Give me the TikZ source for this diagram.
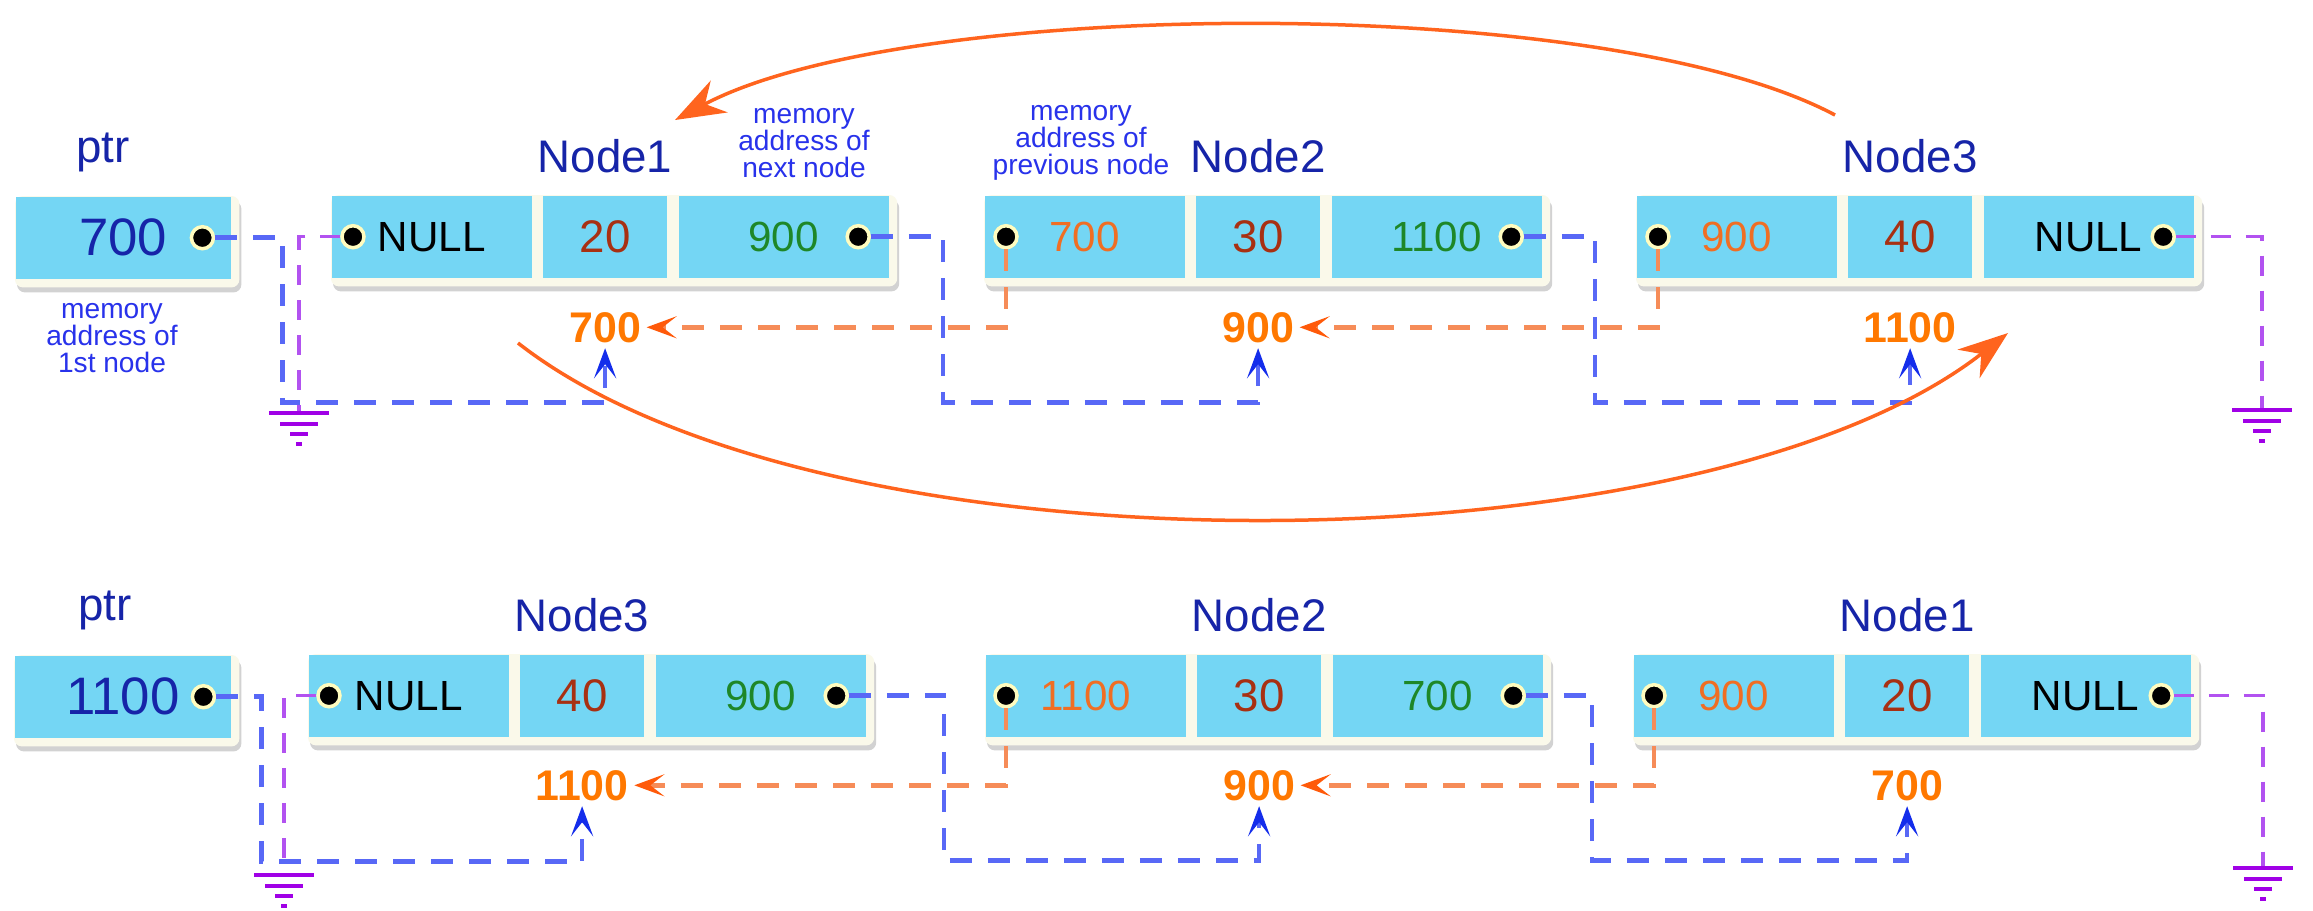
\documentclass[tikz,border=0pt]{standalone}
\usepackage{fontspec}
\setmainfont{Liberation Sans}
\usetikzlibrary{positioning, arrows.meta, backgrounds, shadows}

\definecolor{cellblue}{RGB}{116,214,244}
\definecolor{cream}{RGB}{250,249,234}
\definecolor{titleblue}{RGB}{22,36,168}
\definecolor{noteblue}{RGB}{40,50,235}
\definecolor{datared}{RGB}{168,48,18}
\definecolor{nextgreen}{RGB}{30,135,40}
\definecolor{prevorange}{RGB}{240,110,35}
\definecolor{addrorange}{RGB}{255,120,0}
\definecolor{linkblue}{RGB}{88,104,246}
\definecolor{tipblue}{RGB}{20,45,235}
\definecolor{linkorange}{RGB}{246,140,88}
\definecolor{tiporange}{RGB}{255,90,10}
\definecolor{nullpurple}{RGB}{178,82,240}
\definecolor{gndpurple}{RGB}{160,0,230}
\definecolor{swaporange}{RGB}{255,100,30}

\tikzset{
  cell/.style={rectangle, fill=cellblue, minimum height=8.2mm, inner sep=0pt, font=\fontsize{12}{14}\selectfont},
  datacell/.style={cell, minimum width=12.4mm, text=datared, font=\fontsize{13}{15}\selectfont},
  ptrcell/.style={cell, minimum width=21.5mm, text=titleblue, font=\fontsize{15}{17}\selectfont},
  panel/.style={fill=cream, rounded corners=0.8mm, drop shadow={shadow xshift=0.2mm, shadow yshift=-0.5mm, opacity=0.35}},
  dot/.style={circle, fill=black, draw=yellow!25!white, line width=0.35mm, minimum size=2.2mm, inner sep=0pt},
  title/.style={text=titleblue, font=\fontsize{13}{15}\selectfont},
  note/.style={text=noteblue, align=center, inner sep=0pt, font=\fontsize{8}{7.6}\selectfont},
  addr/.style={text=addrorange, inner sep=0.5mm, font=\fontsize{12.2}{14}\selectfont\bfseries},
  nextlink/.style={draw=linkblue, line width=0.45mm, dash pattern=on 2.2mm off 1.6mm,
    -{Stealth[length=3mm, width=2.2mm, inset=1.4mm, color=tipblue]}},
  prevlink/.style={draw=linkorange, line width=0.45mm, dash pattern=on 2.2mm off 1.6mm,
    -{Stealth[length=3mm, width=2.2mm, inset=1.4mm, color=tiporange]}},
  nulllink/.style={draw=nullpurple, line width=0.35mm, dash pattern=on 2mm off 1.5mm},
  swap/.style={draw=swaporange, line width=0.35mm, -{Stealth[length=5mm, width=3.6mm, inset=1.6mm]}},
  ground/.pic={
    \draw[gndpurple, line width=0.4mm] (-30,0) -- (30,0) (-19,11) -- (19,11) (-9,21) -- (9,21) (-3,31) -- (3,31);
  }
}

\begin{document}
\begin{tikzpicture}[x=0.1mm, y=-0.1mm]

\useasboundingbox (0,0) rectangle (2313,910);
\begin{scope}[on background layer]
  \fill[white] (0,0) rectangle (2313,910);
\end{scope}

% list before reversing
\node[title] (tptrt) at (103,152) {ptr};
\node[ptrcell, anchor=north west] (tptr) at (15,196) {700\hspace{1.2mm}};
\node[dot] (tptrd) at ([xshift=-2.9mm]tptr.east) {};
\node[note] (tnote1) at (112,338) {memory\\address of\\1st node};
\node[note] (tnote2) at (804,143) {memory\\address of\\next node};
\node[note] (tnote3) at (1081,143) {memory\\address of\\previous node};

\foreach \i/\x/\lbl/\pc/\p/\d/\nc/\n/\a in {
    1/331/Node1/black/NULL/20/nextgreen/900/700,
    2/984/Node2/prevorange/700/30/nextgreen/1100/900,
    3/1636/Node3/prevorange/900/40/black/NULL/1100} {
  \node[cell, minimum width=20mm, anchor=north west, text=\pc] (t\i l) at (\x,195) {\p};
  \node[datacell, right=1mm of t\i l] (t\i m) {\d};
  \node[cell, minimum width=21mm, right=1mm of t\i m, text=\nc] (t\i r) {\n};
  \node[dot] (t\i p) at ([xshift=2.2mm]t\i l.west) {};
  \node[dot] (t\i n) at ([xshift=-3.1mm]t\i r.east) {};
  \node[title, above=1mm of t\i m] (t\i t) {\lbl};
  \node[addr, below=2.8mm of t\i m] (t\i a) {\a};
  \begin{scope}[on background layer]
    \fill[panel] (t\i l.north west) rectangle ([shift={(8,8)}]t\i r.south east);
  \end{scope}
}
\begin{scope}[on background layer]
  \fill[panel] (tptr.north west) rectangle ([shift={(8,8)}]tptr.south east);
\end{scope}

% next pointers
\draw[nextlink] (tptrd) -| ++(80,165) -| (t1a.south);
\draw[nextlink] (t1n) -| ++(85,166) -| (t2a.south);
\draw[nextlink] (t2n) -| ++(84,166) -| (t3a.south);

% previous pointers
\draw[prevlink] (t2p) |- (t1a.east);
\draw[prevlink] (t3p) |- (t2a.east);

% NULL ends
\coordinate (g1) at (299,413);
\coordinate (g2) at (2262,410);
\draw[nulllink] (t1p) -| (g1);
\draw[nulllink] (t3n) -| (g2);

% swap of first and last node
\coordinate (s1) at (1835,115);
\coordinate (e1) at (675,120);
\coordinate (s2) at (518,343);
\coordinate (e2) at (2008,333);
\draw[swap] (s1) .. controls (1604,-8) and (906,-3) .. (e1);
\draw[swap] (s2) .. controls (825,583) and (1701,573) .. (e2);

% list after reversing
\node[title] (bptrt) at (105,610) {ptr};
\node[ptrcell, minimum width=21.6mm, anchor=north west] (bptr) at (14,655) {1100};
\node[dot] (bptrd) at ([xshift=-2.8mm]bptr.east) {};

\foreach \i/\x/\lbl/\pc/\p/\d/\nc/\n/\a in {
    1/308/Node3/black/NULL/40/nextgreen/900/1100,
    2/985/Node2/prevorange/1100/30/nextgreen/700/900,
    3/1633/Node1/prevorange/900/20/black/NULL/700} {
  \node[cell, minimum width=20mm, anchor=north west, text=\pc] (b\i l) at (\x,654) {\p};
  \node[datacell, right=1mm of b\i l] (b\i m) {\d};
  \node[cell, minimum width=21mm, right=1mm of b\i m, text=\nc] (b\i r) {\n};
  \node[dot] (b\i p) at ([xshift=2.1mm]b\i l.west) {};
  \node[dot] (b\i n) at ([xshift=-3mm]b\i r.east) {};
  \node[title, above=1mm of b\i m] (b\i t) {\lbl};
  \node[addr, below=2.7mm of b\i m] (b\i a) {\a};
  \begin{scope}[on background layer]
    \fill[panel] (b\i l.north west) rectangle ([shift={(8,8)}]b\i r.south east);
  \end{scope}
}
\begin{scope}[on background layer]
  \fill[panel] (bptr.north west) rectangle ([shift={(8,8)}]bptr.south east);
\end{scope}

\draw[nextlink] (bptrd) -| ++(58,165) -| (b1a.south);
\draw[nextlink] (b1n) -| ++(108,165) -| (b2a.south);
\draw[nextlink] (b2n) -| ++(79,165) -| (b3a.south);

\draw[prevlink] (b2p) |- (b1a.east);
\draw[prevlink] (b3p) |- (b2a.east);

\coordinate (g3) at (284,875);
\coordinate (g4) at (2263,868);
\draw[nulllink] (b1p) -| (g3);
\draw[nulllink] (b3n) -| (g4);

\foreach \g in {g1,g2,g3,g4} \pic at (\g) {ground};

\end{tikzpicture}
\end{document}
